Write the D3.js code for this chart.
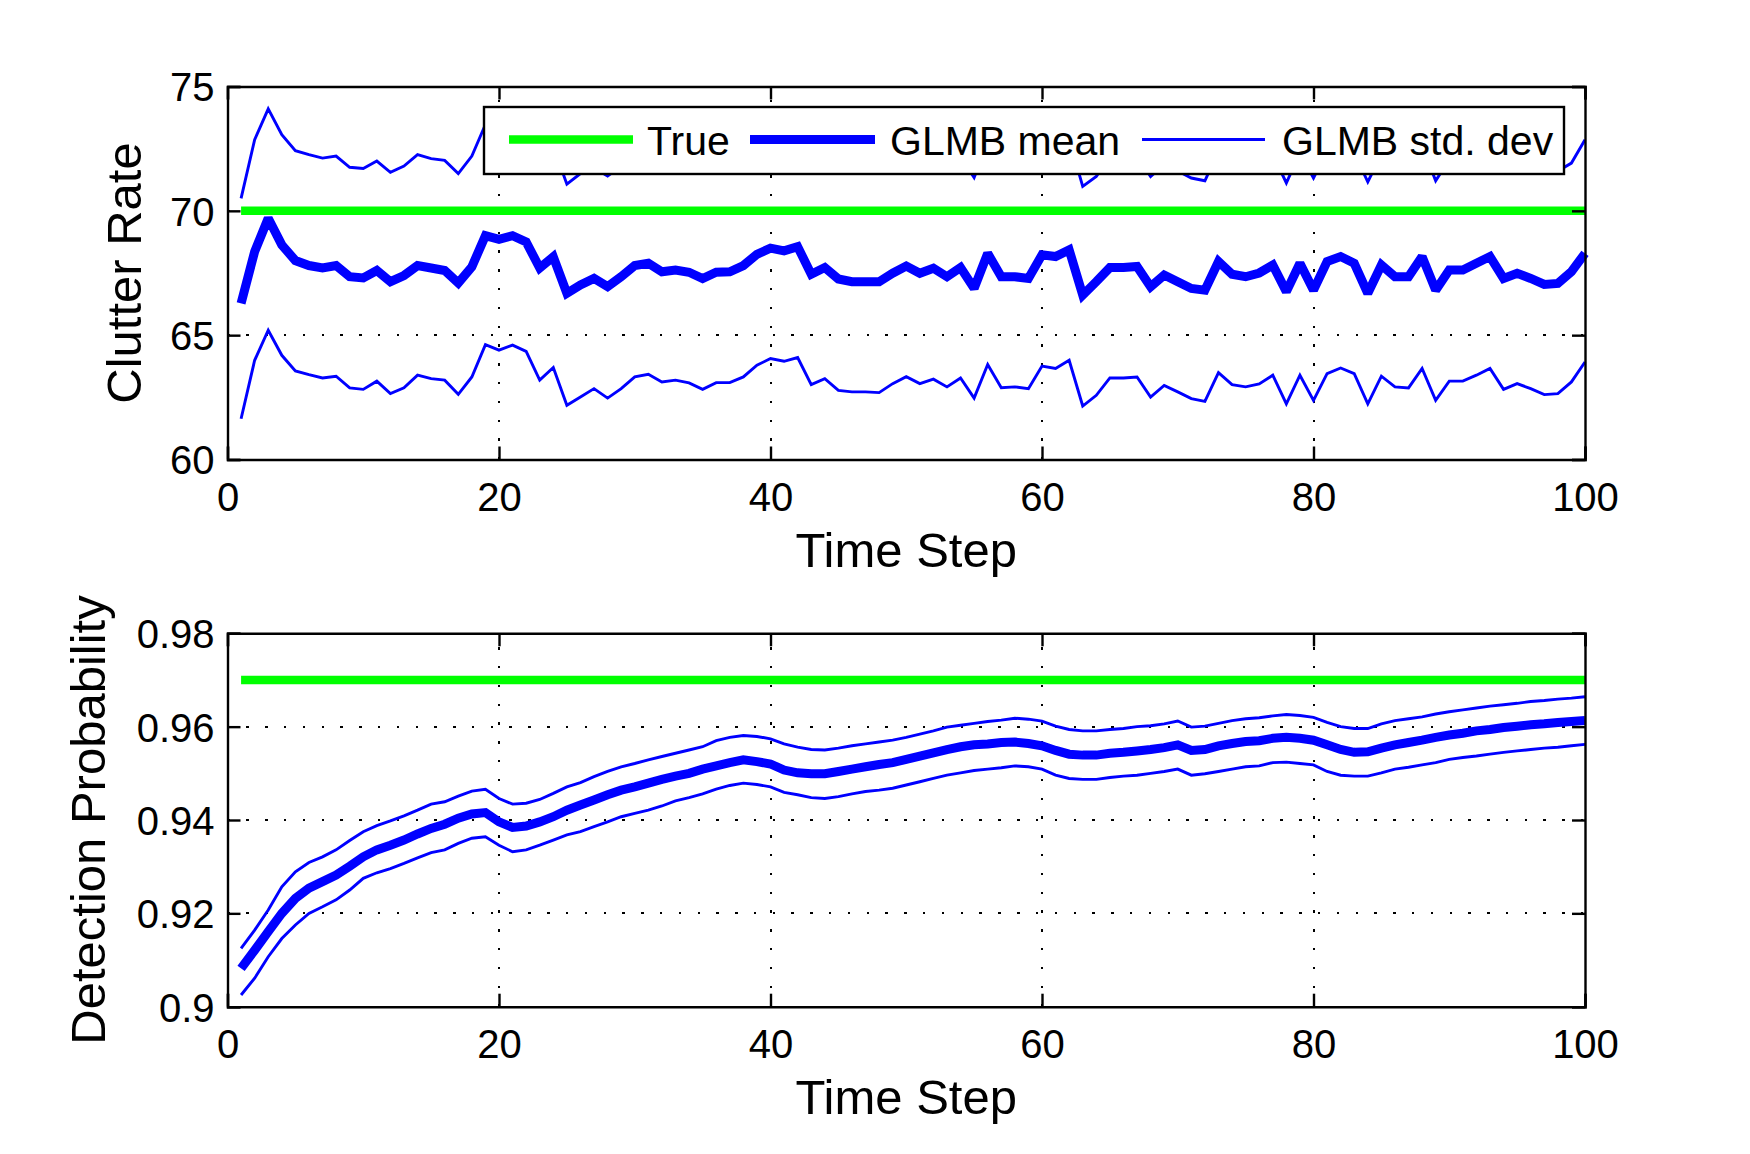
<!DOCTYPE html>
<html>
<head>
<meta charset="utf-8">
<script src="https://cdn.jsdelivr.net/npm/d3@7"></script>
<style>
  html, body { margin: 0; padding: 0; background: #fff; }
  svg { display: block; }
  text { font-family: "Liberation Sans", Arial, Helvetica, sans-serif; fill: #000; }
</style>
</head>
<body>
<svg id="chart" width="1750" height="1154"></svg>
<script>
// ---------------- DATA ----------------
const timeSteps = d3.range(1, 101);
const xTicks = [0, 20, 40, 60, 80, 100];
const clutterTicks = [60, 65, 70, 75];
const pdTicks = [0.9, 0.92, 0.94, 0.96, 0.98];
const legendLabels = ["True", "GLMB mean", "GLMB std. dev"];
const xLabel = "Time Step";
const clutterLabel = "Clutter Rate";
const pdLabel = "Detection Probability";

const clutterTrue = 70;
const clutterMean = [66.28,68.36,69.7,68.63,68.0,67.8,67.7,67.8,67.35,67.3,
67.6,67.15,67.4,67.8,67.7,67.6,67.1,67.75,69.0,68.85,
69.0,68.75,67.7,68.15,66.68,67.02,67.28,66.95,67.35,67.8,
67.89,67.55,67.62,67.53,67.28,67.53,67.55,67.8,68.25,68.5,
68.39,68.56,67.45,67.72,67.26,67.15,67.15,67.15,67.49,67.78,
67.49,67.69,67.35,67.72,66.88,68.29,67.35,67.35,67.28,68.23,
68.16,68.43,66.61,67.15,67.72,67.72,67.76,66.95,67.42,67.15,
66.88,66.81,67.96,67.45,67.35,67.5,67.82,66.75,67.89,66.81,
67.96,68.16,67.89,66.68,67.82,67.35,67.35,68.16,66.81,67.62,
67.62,67.89,68.16,67.28,67.49,67.28,67.04,67.08,67.55,68.29];
const clutterUpper = [70.5,72.86,74.1,73.06,72.42,72.26,72.12,72.2,71.75,71.7,
72.0,71.55,71.8,72.26,72.1,72.03,71.5,72.2,73.47,73.3,
73.45,73.2,72.15,72.6,71.07,71.5,71.72,71.4,71.8,72.25,
72.34,72.0,72.07,71.98,71.73,71.98,72.0,72.25,72.7,72.95,
72.84,73.01,71.9,72.17,71.71,71.6,71.6,71.6,71.94,72.23,
71.94,72.14,71.8,72.17,71.34,72.74,71.8,71.8,71.73,72.68,
72.61,72.88,70.98,71.38,72.17,72.17,72.21,71.38,71.87,71.6,
71.32,71.21,72.41,71.9,71.8,71.95,72.27,71.12,72.34,71.32,
72.41,72.61,72.34,71.16,72.27,71.8,71.8,72.61,71.21,72.07,
72.07,72.34,72.61,71.73,71.94,71.73,71.55,71.6,71.92,72.86];
const clutterLower = [61.64,63.99,65.2,64.19,63.56,63.41,63.28,63.35,62.88,62.82,
63.15,62.65,62.88,63.39,63.25,63.19,62.62,63.32,64.62,64.4,
64.6,64.35,63.19,63.7,62.18,62.51,62.85,62.47,62.85,63.32,
63.43,63.12,63.19,63.08,62.82,63.09,63.09,63.32,63.79,64.06,
63.95,64.1,63.01,63.25,62.78,62.72,62.72,62.69,63.05,63.33,
63.05,63.23,62.92,63.28,62.47,63.82,62.89,62.92,62.85,63.76,
63.66,63.99,62.15,62.58,63.28,63.28,63.32,62.51,62.98,62.72,
62.45,62.34,63.49,63.01,62.92,63.04,63.39,62.24,63.39,62.38,
63.45,63.68,63.45,62.24,63.35,62.92,62.88,63.66,62.38,63.15,
63.15,63.39,63.66,62.82,63.05,62.85,62.61,62.65,63.12,63.92];

const pdTrue = 0.97;
const pdMean = [0.9082,0.9121,0.9161,0.92,0.9232,0.9254,0.9268,0.9282,0.9301,0.9321,
0.9336,0.9346,0.9357,0.937,0.9382,0.9391,0.9404,0.9413,0.9416,0.9396,
0.9384,0.9387,0.9396,0.9407,0.9421,0.9432,0.9443,0.9454,0.9464,0.9471,
0.9479,0.9487,0.9494,0.95,0.9509,0.9516,0.9523,0.9529,0.9525,0.952,
0.9507,0.9501,0.9499,0.9499,0.9504,0.9509,0.9514,0.9519,0.9523,0.953,
0.9537,0.9544,0.9551,0.9557,0.9561,0.9563,0.9566,0.9567,0.9564,0.9559,
0.9549,0.9541,0.9539,0.9539,0.9543,0.9545,0.9548,0.9551,0.9555,0.9561,
0.9549,0.9551,0.9559,0.9564,0.9568,0.957,0.9575,0.9577,0.9575,0.9571,
0.9561,0.9551,0.9545,0.9546,0.9554,0.9561,0.9566,0.9571,0.9577,0.9582,
0.9586,0.9591,0.9594,0.9598,0.9601,0.9604,0.9606,0.9609,0.9611,0.9613];
const pdUpper = [0.9125,0.9164,0.9207,0.9257,0.9289,0.9309,0.9321,0.9336,0.9356,0.9375,
0.9388,0.9398,0.9409,0.9421,0.9434,0.9439,0.9451,0.9462,0.9466,0.9446,
0.9434,0.9436,0.9444,0.9457,0.9471,0.948,0.9493,0.9504,0.9514,0.9521,
0.9529,0.9536,0.9543,0.955,0.9557,0.957,0.9577,0.9581,0.9579,0.9574,
0.9563,0.9556,0.9551,0.955,0.9554,0.9559,0.9563,0.9567,0.9571,0.9577,
0.9584,0.9591,0.9599,0.9603,0.9607,0.9611,0.9614,0.9618,0.9616,0.9612,
0.9601,0.9594,0.9591,0.9591,0.9594,0.9596,0.96,0.9602,0.9606,0.9612,
0.9599,0.9601,0.9607,0.9613,0.9617,0.9619,0.9623,0.9626,0.9624,0.962,
0.9609,0.96,0.9596,0.9596,0.9606,0.9613,0.9617,0.9621,0.9627,0.9632,
0.9636,0.964,0.9644,0.9647,0.965,0.9654,0.9656,0.9659,0.9661,0.9664];
const pdLower = [0.9025,0.9061,0.9107,0.9146,0.9175,0.92,0.9214,0.9229,0.925,0.9275,
0.9287,0.9296,0.9307,0.9319,0.933,0.9336,0.935,0.9361,0.9364,0.9346,
0.9332,0.9336,0.9346,0.9357,0.9368,0.9375,0.9386,0.9396,0.9407,0.9414,
0.9421,0.943,0.9441,0.9448,0.9456,0.9466,0.9474,0.9479,0.9476,0.9471,
0.9459,0.9454,0.9448,0.9446,0.945,0.9456,0.9461,0.9464,0.9468,0.9475,
0.9482,0.9489,0.9496,0.9501,0.9506,0.9509,0.9512,0.9516,0.9514,0.9509,
0.9496,0.9489,0.9487,0.9487,0.9491,0.9494,0.9496,0.95,0.9504,0.9509,
0.9496,0.9499,0.9504,0.9509,0.9514,0.9516,0.9523,0.9524,0.9521,0.9518,
0.9504,0.9496,0.9494,0.9494,0.9501,0.9509,0.9513,0.9518,0.9523,0.953,
0.9534,0.9537,0.9541,0.9545,0.9548,0.9551,0.9554,0.9556,0.9559,0.9562];

// ---------------- STYLE ----------------
const GREEN = "#00ff00", BLUE = "#0000ff";
const W_TRUE = 8.5, W_MEAN = 9, W_STD = 2.9;
const svg = d3.select("#chart");
const plotLeft = 227.5, plotRight = 1585;
const x = d3.scaleLinear().domain([0, 100]).range([plotLeft, plotRight]);

function panel(cfg) {
  const y = d3.scaleLinear().domain(cfg.domain).range([cfg.bottom, cfg.top]);
  const g = svg.append("g");
  const top = cfg.top, bottom = cfg.bottom;

  // grid (dotted) at interior ticks
  const dash = "2.4,16.4";
  g.selectAll(".vgrid").data(xTicks.filter(t => t > 0 && t < 100)).enter()
    .append("line").attr("x1", d => Math.round(x(d))).attr("x2", d => Math.round(x(d)))
    .attr("y1", bottom).attr("y2", top)
    .attr("stroke", "#000").attr("stroke-width", 2.4).attr("stroke-dasharray", dash)
    .attr("shape-rendering", "crispEdges");
  const yt = cfg.ticks;
  g.selectAll(".hgrid").data(yt.slice(1, yt.length - 1)).enter()
    .append("line").attr("y1", d => Math.round(y(d))).attr("y2", d => Math.round(y(d)))
    .attr("x1", plotLeft).attr("x2", plotRight)
    .attr("stroke", "#000").attr("stroke-width", 2.4).attr("stroke-dasharray", dash)
    .attr("shape-rendering", "crispEdges");

  // lines
  const line = d3.line().x((d, i) => x(timeSteps[i])).y(d => y(d));
  const trueArr = timeSteps.map(() => cfg.trueVal);
  g.append("path").attr("d", line(trueArr)).attr("fill", "none")
    .attr("stroke", GREEN).attr("stroke-width", W_TRUE);
  g.append("path").attr("d", line(cfg.mean)).attr("fill", "none")
    .attr("stroke", BLUE).attr("stroke-width", W_MEAN)
    .attr("stroke-linejoin", "miter").attr("stroke-miterlimit", 2);
  [cfg.upper, cfg.lower].forEach(arr => {
    g.append("path").attr("d", line(arr)).attr("fill", "none")
      .attr("stroke", BLUE).attr("stroke-width", W_STD)
      .attr("stroke-linejoin", "miter").attr("stroke-miterlimit", 3);
  });

  // axes (box + inward ticks) using d3 axes
  const tl = 13;
  const axB = d3.axisBottom(x).tickValues(xTicks).tickSize(-tl).tickPadding(0).tickFormat(d3.format("d"));
  const axT = d3.axisTop(x).tickValues(xTicks).tickSize(-tl).tickFormat("");
  const axL = d3.axisLeft(y).tickValues(yt).tickSize(-tl).tickPadding(13).tickFormat(cfg.fmt);
  const axR = d3.axisRight(y).tickValues(yt).tickSize(-tl).tickFormat("");
  const gb = g.append("g").attr("transform", `translate(0,${bottom})`).call(axB);
  const gt = g.append("g").attr("transform", `translate(0,${top})`).call(axT);
  const gl = g.append("g").attr("transform", `translate(${plotLeft},0)`).call(axL);
  const gr = g.append("g").attr("transform", `translate(${plotRight},0)`).call(axR);
  [gb, gt, gl, gr].forEach(a => {
    a.select(".domain").attr("stroke", "#000").attr("stroke-width", 2.4);
    a.selectAll(".tick line").attr("stroke", "#000").attr("stroke-width", 2.4);
    a.selectAll("text").attr("font-size", 40).attr("fill", "#000")
      .style("font-family", '"Liberation Sans", Arial, sans-serif');
  });
  gb.selectAll(".tick text").attr("dy", null).attr("y", 51.5);
  gl.selectAll(".tick text").attr("dy", "0.36em");

  // labels
  svg.append("text").attr("x", (plotLeft + plotRight) / 2).attr("y", bottom + 107.5)
    .attr("text-anchor", "middle").attr("font-size", 49).text(xLabel);
  svg.append("text")
    .attr("transform", `translate(${cfg.ylabX},${(top + bottom) / 2}) rotate(-90)`)
    .attr("text-anchor", "middle").attr("font-size", 49).text(cfg.label);
  return { y, g };
}

panel({ domain: [60, 75], top: 86.5, bottom: 459.5, ticks: clutterTicks,
  fmt: d3.format("d"), trueVal: clutterTrue, mean: clutterMean, upper: clutterUpper,
  lower: clutterLower, label: clutterLabel, ylabX: 140.5 });

panel({ domain: [0.9, 0.98], top: 633.3, bottom: 1006.7, ticks: pdTicks,
  fmt: d => (d === 0.9 ? "0.9" : d3.format(".2f")(d)), trueVal: pdTrue, mean: pdMean, upper: pdUpper,
  lower: pdLower, label: pdLabel, ylabX: 105 });

// ---------------- LEGEND ----------------
const lg = svg.append("g");
lg.append("rect").attr("x", 484).attr("y", 107).attr("width", 1080).attr("height", 67)
  .attr("fill", "#fff").attr("stroke", "#000").attr("stroke-width", 2.4);
const legendItems = [
  { label: legendLabels[0], color: GREEN, w: W_TRUE, x0: 509, x1: 633, tx: 647 },
  { label: legendLabels[1], color: BLUE, w: W_MEAN, x0: 750, x1: 875, tx: 890 },
  { label: legendLabels[2], color: BLUE, w: W_STD, x0: 1142, x1: 1265, tx: 1282 }
];
legendItems.forEach(it => {
  lg.append("line").attr("x1", it.x0).attr("x2", it.x1).attr("y1", 139.5).attr("y2", 139.5)
    .attr("stroke", it.color).attr("stroke-width", it.w);
  lg.append("text").attr("x", it.tx).attr("y", 155).attr("font-size", 41).text(it.label);
});
</script>
</body>
</html>
